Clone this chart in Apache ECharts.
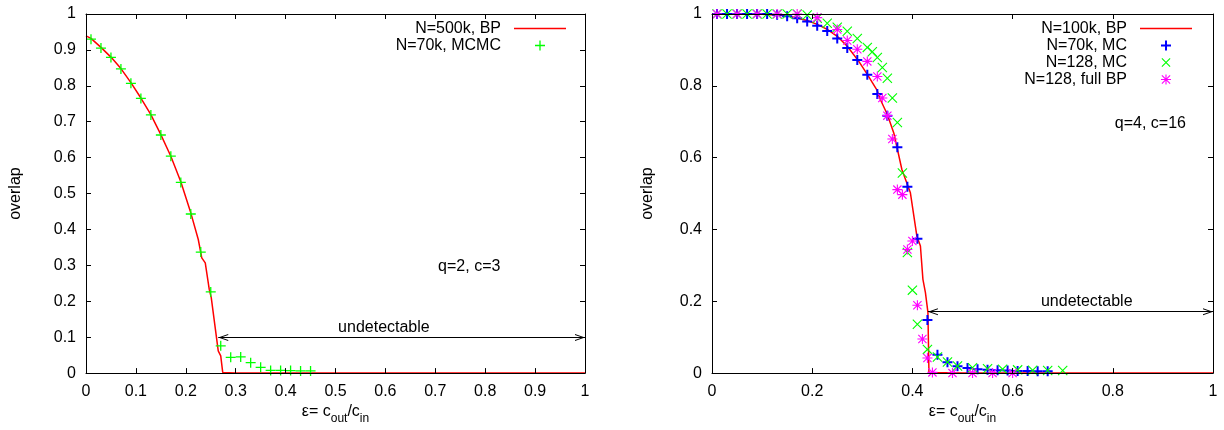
<!DOCTYPE html>
<html><head><meta charset="utf-8">
<script src="https://cdn.jsdelivr.net/npm/echarts@6/dist/echarts.min.js"></script>
<style>html,body{margin:0;padding:0;background:#fff}#c{width:1224px;height:430px}</style>
</head><body><div id="c"></div>
<script>
// ---------- data: left panel (q=2, c=3) ----------
const bpLeftX = [0, 0.01, 0.03, 0.05, 0.07, 0.09, 0.11, 0.13, 0.15, 0.17, 0.19, 0.209, 0.225, 0.232, 0.239, 0.247, 0.251, 0.255, 0.265, 0.270, 0.274, 0.30, 0.5, 1.0];
const bpLeftY = [0.939, 0.932, 0.907, 0.880, 0.848, 0.809, 0.766, 0.720, 0.664, 0.604, 0.533, 0.451, 0.372, 0.321, 0.307, 0.233, 0.210, 0.206, 0.062, 0.048, 0.002, 0, 0, 0];
const mcmcLeftX = [0.01, 0.03, 0.05, 0.07, 0.09, 0.11, 0.13, 0.15, 0.17, 0.19, 0.21, 0.23, 0.25, 0.27, 0.29, 0.31, 0.33, 0.35, 0.37, 0.39, 0.41, 0.43, 0.45];
const mcmcLeftY = [0.930, 0.905, 0.879, 0.847, 0.807, 0.765, 0.719, 0.663, 0.604, 0.531, 0.443, 0.337, 0.226, 0.076, 0.044, 0.045, 0.029, 0.016, 0.0075, 0.0075, 0.007, 0.006, 0.006];

// ---------- data: right panel (q=4, c=16) ----------
const bpRightX = [0, 0.05, 0.10, 0.15, 0.19, 0.21, 0.23, 0.25, 0.27, 0.293, 0.31, 0.329, 0.336, 0.35, 0.363, 0.379, 0.396, 0.409, 0.416, 0.421, 0.426, 0.431, 0.433, 0.5, 1.0];
const bpRightY = [1, 1, 0.999, 0.995, 0.982, 0.971, 0.957, 0.938, 0.910, 0.868, 0.832, 0.789, 0.762, 0.720, 0.668, 0.567, 0.502, 0.381, 0.354, 0.261, 0.224, 0.169, 0.002, 0, 0];
const mc70kX = [0.01, 0.03, 0.05, 0.07, 0.09, 0.11, 0.13, 0.15, 0.17, 0.19, 0.21, 0.23, 0.25, 0.27, 0.29, 0.31, 0.33, 0.35, 0.37, 0.39, 0.41, 0.43, 0.45, 0.47, 0.49, 0.51, 0.53, 0.55, 0.57, 0.59, 0.61, 0.63, 0.65, 0.67];
const mc70kY = [1, 1, 1, 1, 1, 1, 0.998, 0.994, 0.988, 0.979, 0.967, 0.953, 0.932, 0.905, 0.872, 0.831, 0.777, 0.717, 0.629, 0.519, 0.374, 0.148, 0.051, 0.030, 0.019, 0.014, 0.011, 0.009, 0.008, 0.007, 0.006, 0.006, 0.005, 0.005];
const mc128X = [0.01, 0.03, 0.05, 0.07, 0.09, 0.11, 0.13, 0.15, 0.17, 0.19, 0.21, 0.23, 0.25, 0.27, 0.29, 0.31, 0.32, 0.33, 0.34, 0.35, 0.36, 0.37, 0.38, 0.39, 0.40, 0.41, 0.43, 0.45, 0.47, 0.49, 0.52, 0.55, 0.58, 0.61, 0.64, 0.67, 0.70];
const mc128Y = [1, 1, 1, 1, 1, 1, 1, 1, 1, 0.997, 0.988, 0.974, 0.963, 0.952, 0.932, 0.907, 0.895, 0.879, 0.851, 0.821, 0.766, 0.698, 0.557, 0.336, 0.231, 0.136, 0.066, 0.045, 0.031, 0.020, 0.015, 0.012, 0.011, 0.009, 0.008, 0.007, 0.007];
const bp128X = [0.01, 0.05, 0.09, 0.13, 0.17, 0.21, 0.25, 0.27, 0.29, 0.31, 0.33, 0.34, 0.35, 0.36, 0.37, 0.38, 0.39, 0.40, 0.41, 0.42, 0.43, 0.44, 0.48, 0.52, 0.56, 0.60];
const bp128Y = [1, 1, 1, 1, 1, 0.99, 0.957, 0.926, 0.902, 0.868, 0.826, 0.766, 0.717, 0.652, 0.511, 0.497, 0.344, 0.368, 0.189, 0.095, 0.042, 0.002, 0, 0, 0, 0];

// ---------- ticks, legend names, annotations ----------
const leftXTicks = ['0', '0.1', '0.2', '0.3', '0.4', '0.5', '0.6', '0.7', '0.8', '0.9', '1'];
const leftYTicks = ['0', '0.1', '0.2', '0.3', '0.4', '0.5', '0.6', '0.7', '0.8', '0.9', '1'];
const rightXTicks = ['0', '0.2', '0.4', '0.6', '0.8', '1'];
const rightYTicks = ['0', '0.2', '0.4', '0.6', '0.8', '1'];
const leftNames = ['N=500k, BP', 'N=70k, MCMC'];
const rightNames = ['N=100k, BP', 'N=70k, MC', 'N=128, MC', 'N=128, full BP'];
const leftArrow = [[0.265, 0.099], [1, 0.099]];
const rightArrow = [[0.431, 0.171], [1, 0.171]];
const leftTexts = [['undetectable', 0.597, 0.127], ['q=2, c=3', 0.768, 0.296]];
const rightTexts = [['undetectable', 0.748, 0.198], ['q=4, c=16', 0.875, 0.696]];
const axisNameY = 'overlap';

// ---------- helpers ----------
const FONT = 'Liberation Sans, Arial, Helvetica, sans-serif';
const zip = (xs, ys) => xs.map((x, i) => [x, ys[i]]);
function plusP(cx, cy, s, w) {
  const h = s / 2, t = w / 2;
  return `M${cx - t},${cy - h} H${cx + t} V${cy - t} H${cx + h} V${cy + t} H${cx + t} V${cy + h} H${cx - t} V${cy + t} H${cx - h} V${cy - t} H${cx - t} Z `;
}
function crossP(cx, cy, s, w) {
  const h = s / 2, e = w / Math.SQRT2;
  return `M${cx - h},${cy - h + e} L${cx - h + e},${cy - h} L${cx + h},${cy + h - e} L${cx + h - e},${cy + h} Z ` +
         `M${cx + h - e},${cy - h} L${cx + h},${cy - h + e} L${cx - h + e},${cy + h} L${cx - h},${cy + h - e} Z `;
}
const CORNERS = 'M0,0 L0.01,0 L0,0.01 Z M60,12 L59.99,12 L60,11.99 Z ';
const ICON_LINE = 'path://' + CORNERS + 'M8,5.3 H60 V6.7 H8 Z';
const ICON_PLUS_THIN = 'path://' + CORNERS + plusP(34, 6, 10, 1.3);
const ICON_PLUS = 'path://' + CORNERS + plusP(34, 6, 10, 2);
const ICON_CROSS = 'path://' + CORNERS + crossP(34, 6, 9, 1.1);
const ICON_STAR = 'path://' + CORNERS + plusP(34, 6, 10, 1.1) + crossP(34, 6, 9, 1.1);
const SYM_PLUS_THIN = 'path://' + plusP(5, 5, 10, 1.3);
const SYM_PLUS = 'path://' + plusP(5, 5, 10, 2);
const SYM_CROSS = 'path://' + crossP(5, 5, 10, 1.1);
const SYM_STAR = 'path://' + plusP(5, 5, 10, 1.1) + crossP(5, 5, 9, 1.1);
const ARROW = 'path://M0,0 L0.01,0 L0,0.01 Z M5,12 L10,24 L8.6,24 L5,15.4 L1.4,24 L0,24 Z';

function mkAxisX(grid, interval, labels, top) {
  return {
    type: 'value', gridIndex: grid, min: 0, max: 1, interval: interval, z: 10,
    position: top ? 'top' : 'bottom',
    axisLine: { show: true, onZero: false, lineStyle: { color: '#000', width: 1 } },
    axisTick: { show: true, inside: true, length: 5, lineStyle: { color: '#000' } },
    splitLine: { show: false },
    axisLabel: top ? { show: false } : {
      show: true, margin: 10, color: '#000', fontSize: 16, fontFamily: FONT,
      formatter: v => labels[Math.round(v / interval)]
    },
    name: top ? '' : '{m|ε= c}{s|out}{m|/c}{s|in}',
    nameLocation: 'middle', nameGap: 30,
    nameTextStyle: {
      color: '#000', fontSize: 16, fontFamily: FONT,
      rich: {
        m: { fontSize: 16, fontFamily: FONT, color: '#000', verticalAlign: 'bottom', padding: [0, 0, 5, 0] },
        s: { fontSize: 12, fontFamily: FONT, color: '#000', verticalAlign: 'bottom' }
      }
    }
  };
}
function mkAxisY(grid, interval, labels, right, gap) {
  return {
    type: 'value', gridIndex: grid, min: 0, max: 1, interval: interval, z: 10,
    position: right ? 'right' : 'left',
    axisLine: { show: true, onZero: false, lineStyle: { color: '#000', width: 1 } },
    axisTick: { show: true, inside: true, length: 5, lineStyle: { color: '#000' } },
    splitLine: { show: false },
    axisLabel: right ? { show: false } : {
      show: true, margin: 10, color: '#000', fontSize: 16, fontFamily: FONT,
      formatter: v => labels[Math.round(v / interval)]
    },
    name: right ? '' : axisNameY,
    nameLocation: 'middle', nameGap: gap, nameRotate: 90,
    nameTextStyle: { color: '#000', fontSize: 16, fontFamily: FONT }
  };
}
function annot(texts) {
  return {
    silent: true, symbol: 'rect', symbolSize: 0, animation: false,
    label: { show: true, position: 'inside', color: '#000', fontSize: 16, fontFamily: FONT, formatter: p => p.name },
    data: texts.map(t => ({ name: t[0], coord: [t[1], t[2]] }))
  };
}
function arrowLine(a) {
  return {
    silent: true, animation: false, symbol: [ARROW, ARROW], symbolSize: [7, 20],
    lineStyle: { color: '#000', width: 1, type: 'solid' },
    label: { show: false },
    data: [[{ coord: a[0] }, { coord: a[1] }]]
  };
}
function scatter(name, xi, yi, xs, ys, sym, color, z) {
  return {
    name: name, type: 'scatter', xAxisIndex: xi, yAxisIndex: yi,
    data: zip(xs, ys), symbol: sym, symbolSize: 10, z: z,
    itemStyle: { color: color, borderWidth: 0, opacity: 1 },
    emphasis: { disabled: true }, animation: false
  };
}

const legendCommon = {
  orient: 'vertical', align: 'right', padding: 0, itemGap: 0,
  itemWidth: 60, itemHeight: 12, selectedMode: false,
  itemStyle: { borderWidth: 0 },
  textStyle: { color: '#000', fontSize: 16, fontFamily: FONT, lineHeight: 17 }
};

const option = {
  backgroundColor: '#fff',
  animation: false,
  grid: [
    { left: 86, top: 14, width: 499, height: 360 },
    { left: 712, top: 14, width: 501, height: 360 }
  ],
  xAxis: [
    mkAxisX(0, 0.1, leftXTicks, false),
    mkAxisX(0, 0.1, leftXTicks, true),
    mkAxisX(1, 0.2, rightXTicks, false),
    mkAxisX(1, 0.2, rightXTicks, true)
  ],
  yAxis: [
    mkAxisY(0, 0.1, leftYTicks, false, 62),
    mkAxisY(0, 0.1, leftYTicks, true, 0),
    mkAxisY(1, 0.2, rightYTicks, false, 56),
    mkAxisY(1, 0.2, rightYTicks, true, 0)
  ],
  legend: [
    Object.assign({}, legendCommon, {
      right: 1224 - 566, top: 20,
      data: [{ name: leftNames[0], icon: ICON_LINE }, { name: leftNames[1], icon: ICON_PLUS_THIN }]
    }),
    Object.assign({}, legendCommon, {
      right: 1224 - 1192, top: 20,
      data: [
        { name: rightNames[0], icon: ICON_LINE },
        { name: rightNames[1], icon: ICON_PLUS },
        { name: rightNames[2], icon: ICON_CROSS },
        { name: rightNames[3], icon: ICON_STAR }
      ]
    })
  ],
  series: [
    {
      name: leftNames[0], type: 'line', xAxisIndex: 0, yAxisIndex: 0,
      data: zip(bpLeftX, bpLeftY), showSymbol: false, symbol: 'none', z: 2,
      lineStyle: { color: '#ff0000', width: 1.5 }, itemStyle: { color: '#ff0000' },
      emphasis: { disabled: true },
      markLine: arrowLine(leftArrow), markPoint: annot(leftTexts)
    },
    scatter(leftNames[1], 0, 0, mcmcLeftX, mcmcLeftY, SYM_PLUS_THIN, '#00ff00', 3),
    {
      name: rightNames[0], type: 'line', xAxisIndex: 2, yAxisIndex: 2,
      data: zip(bpRightX, bpRightY), showSymbol: false, symbol: 'none', z: 2,
      lineStyle: { color: '#ff0000', width: 1.5 }, itemStyle: { color: '#ff0000' },
      emphasis: { disabled: true },
      markLine: arrowLine(rightArrow), markPoint: annot(rightTexts)
    },
    scatter(rightNames[1], 2, 2, mc70kX, mc70kY, SYM_PLUS, '#0000ff', 3),
    scatter(rightNames[2], 2, 2, mc128X, mc128Y, SYM_CROSS, '#00ff00', 4),
    scatter(rightNames[3], 2, 2, bp128X, bp128Y, SYM_STAR, '#ff00ff', 5)
  ]
};

const chart = echarts.init(document.getElementById('c'), null, { renderer: 'canvas' });
chart.setOption(option);
</script></body></html>
